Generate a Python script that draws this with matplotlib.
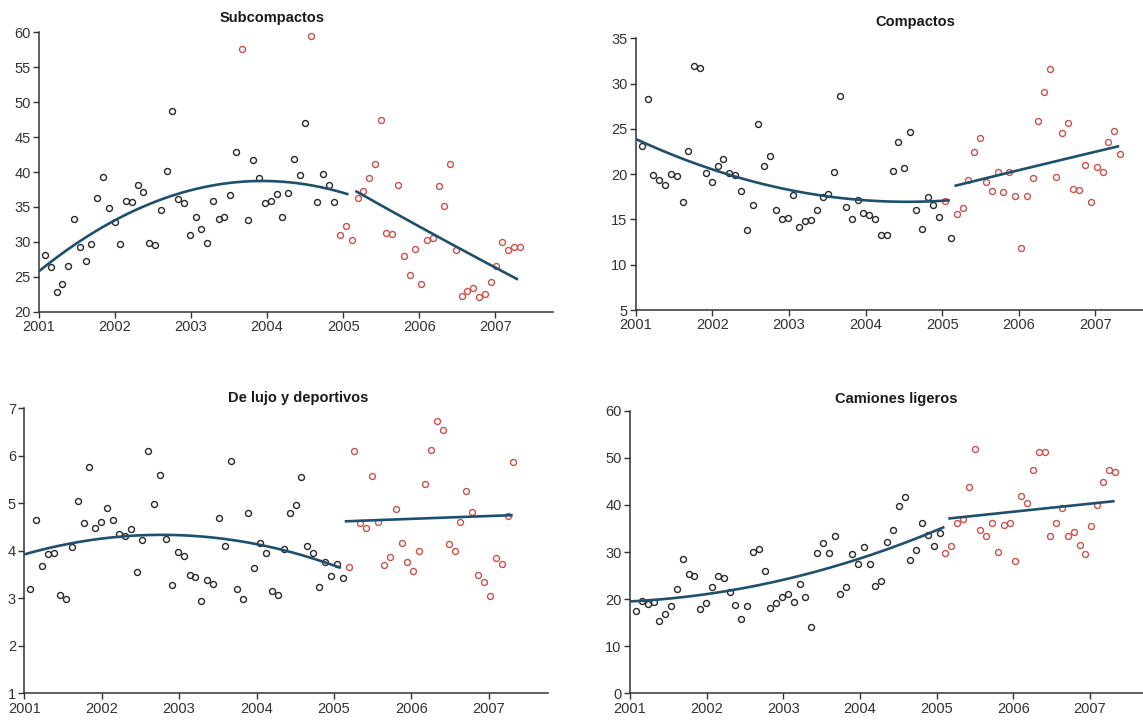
import numpy as np
import matplotlib
matplotlib.use("Agg")
import matplotlib.pyplot as plt

# ---------------- data ----------------
n_points = 83
t_start = 2001.08
t_step = 0.0761          # spacing between observations (years)

years = [2001, 2002, 2003, 2004, 2005, 2006, 2007]

titles = ["Subcompactos", "Compactos", "De lujo y deportivos", "Camiones ligeros"]

subcompactos = [28.1, 26.4, 22.8, 24.0, 26.6, 33.3, 29.2, 27.3, 29.7, 36.3,
                39.3, 34.8, 32.9, 29.7, 35.8, 35.7, 38.1, 37.2, 29.8, 29.5,
                34.5, 40.1, 48.7, 36.1, 35.5, 31.0, 33.5, 31.8, 29.8, 35.9,
                33.3, 33.6, 36.7, 42.9, 57.6, 33.1, 41.7, 39.1, 35.5, 35.8,
                36.8, 33.5, 37.0, 41.8, 39.6, 47.0, 59.5, 35.7, 39.7, 38.2,
                35.7, 31.0, 32.3, 30.2, 36.3, 37.3, 39.1, 41.1, 47.4, 31.3,
                31.1, 38.2, 28.0, 25.2, 29.0, 24.0, 30.3, 30.5, 38.0, 35.1,
                41.1, 28.9, 22.2, 22.9, 23.4, 22.1, 22.6, 24.3, 26.5, 30.0,
                28.8, 29.3, 29.3]

compactos = [23.15, 28.3, 19.9, 19.4, 18.8, 20.0, 19.8, 16.9, 22.6, 31.9,
             31.7, 20.1, 19.1, 20.9, 21.7, 20.1, 19.9, 18.1, 13.8, 16.6,
             25.5, 20.9, 22.0, 16.0, 15.0, 15.2, 17.7, 14.2, 14.8, 14.9,
             16.0, 17.5, 17.8, 20.2, 28.6, 16.4, 15.05, 17.1, 15.75, 15.45,
             15.0, 13.25, 13.3, 20.35, 23.6, 20.7, 24.7, 16.0, 13.95, 17.45,
             16.6, 15.3, 17.0, 13.0, 15.55, 16.25, 19.4, 22.4, 23.95, 19.1,
             18.15, 20.2, 18.0, 20.25, 17.6, 11.8, 17.6, 19.6, 25.9, 29.1,
             31.6, 19.7, 24.5, 25.6, 18.4, 18.2, 21.0, 16.9, 20.8, 20.2,
             23.6, 24.8, 22.2]

lujo = [3.20, 4.64, 3.69, 3.94, 3.95, 3.08, 2.99, 4.07, 5.05, 4.59,
        5.77, 4.47, 4.61, 4.91, 4.64, 4.36, 4.32, 4.46, 3.56, 4.22,
        6.10, 4.98, 5.60, 4.24, 3.29, 3.98, 3.90, 3.49, 3.44, 2.95,
        3.39, 3.31, 4.70, 4.10, 5.90, 3.20, 2.99, 4.80, 3.64, 4.16,
        3.95, 3.15, 3.06, 4.03, 4.80, 4.96, 5.55, 4.10, 3.96, 3.23,
        3.77, 3.46, 3.72, 3.42, 3.66, 6.10, 4.58, 4.48, 5.57, 4.61,
        3.71, 3.88, 4.87, 4.16, 3.77, 3.58, 4.00, 5.41, 6.12, 6.73,
        6.55, 4.15, 3.99, 4.61, 5.25, 4.81, 3.50, 3.34, 3.04, 3.84,
        3.72, 4.74, 5.87]

camiones = [17.5, 19.6, 19.0, 19.3, 15.4, 16.8, 18.6, 22.2, 28.5, 25.4,
            25.0, 18.0, 19.1, 22.5, 25.0, 24.5, 21.6, 18.7, 15.8, 18.6,
            29.9, 30.6, 25.9, 18.1, 19.2, 20.5, 21.0, 19.4, 23.3, 20.4,
            14.1, 29.7, 32.0, 29.7, 33.5, 21.0, 22.5, 29.5, 27.4, 31.1,
            27.4, 22.85, 23.9, 32.2, 34.7, 39.8, 41.6, 28.3, 30.35, 36.2,
            33.6, 31.3, 34.0, 29.85, 31.3, 36.15, 37.1, 43.8, 51.9, 34.7,
            33.5, 36.1, 30.1, 35.7, 36.2, 28.0, 41.9, 40.5, 47.5, 51.3,
            51.3, 33.5, 36.1, 39.3, 33.5, 34.3, 31.4, 29.6, 35.5, 39.9,
            44.8, 47.5, 47.05]

series = [subcompactos, compactos, lujo, camiones]

# index where red (later period) points begin, plus exceptions
red_start = [51, 52, 54, 53]
red_extra = [[34, 46], [], [], []]
black_extra = [[], [53], [], []]

# trend curves (x, y) - first period and second period
trend1_x = [[2001.0, 2002.0, 2003.0, 2004.0, 2005.07],
            [2001.0, 2002.0, 2003.0, 2004.0, 2005.10],
            [2001.0, 2002.0, 2003.0, 2004.03, 2005.09],
            [2001.0, 2002.0, 2003.0, 2004.0, 2005.10]]
trend1_y = [[25.9, 32.9, 37.4, 38.9, 36.7],
            [23.9, 20.5, 18.25, 17.15, 17.1],
            [3.93, 4.25, 4.32, 4.15, 3.63],
            [19.6, 20.9, 24.0, 28.9, 35.2]]
trend2_x = [[2005.16, 2006.0, 2007.30],
            [2005.16, 2006.2, 2007.31],
            [2005.14, 2006.2, 2007.31],
            [2005.15, 2006.2, 2007.32]]
trend2_y = [[37.3, 32.2, 24.6],
            [18.7, 20.85, 23.1],
            [4.62, 4.685, 4.75],
            [37.1, 38.9, 40.8]]

ylims = [(20, 60), (5, 35), (1, 7), (0, 60)]
ysteps = [5, 5, 1, 10]
xmax = [2007.76, 2007.62, 2007.77, 2007.69]

# ---------------- layout (pixel based) ----------------
W, H = 1143, 720
# (left px, right px, top px, bottom px)
boxes = [(39, 553, 32.3, 311.7),
         (635.7, 1143, 38.3, 310),
         (24.3, 548.3, 408.3, 693.3),
         (630, 1143, 410.7, 693.3)]
title_pos = [(272, 18), (915, 22), (298, 398), (896, 399)]

black_col = "#2a2a2a"
red_col = "#c9524b"
line_col = "#1d4f6e"
axis_col = "#333333"

fig = plt.figure(figsize=(W / 100, H / 100), dpi=100)
fig.patch.set_facecolor("white")

tick_font = ["Liberation Sans", "DejaVu Sans"]
title_font = ["Liberation Sans Narrow", "Liberation Sans", "DejaVu Sans"]

t = t_start + np.arange(n_points) * t_step

for k in range(4):
    l, r, tp, b = boxes[k]
    ax = fig.add_axes([l / W, 1 - b / H, (r - l) / W, (b - tp) / H])
    vals = np.array(series[k])
    is_red = np.zeros(n_points, dtype=bool)
    is_red[red_start[k]:] = True
    for i in red_extra[k]:
        is_red[i] = True
    for i in black_extra[k]:
        is_red[i] = False

    ax.plot(t[~is_red], vals[~is_red], linestyle="none", marker="o",
            markersize=4.3, markerfacecolor="none", markeredgecolor=black_col,
            markeredgewidth=1.0, zorder=2, clip_on=False)
    ax.plot(t[is_red], vals[is_red], linestyle="none", marker="o",
            markersize=4.3, markerfacecolor="none", markeredgecolor=red_col,
            markeredgewidth=1.0, zorder=2, clip_on=False)

    # trend curves
    c1 = np.polyfit(trend1_x[k], trend1_y[k], 2)
    xx1 = np.linspace(trend1_x[k][0], trend1_x[k][-1], 200)
    ax.plot(xx1, np.polyval(c1, xx1), color=line_col, lw=1.9, zorder=3,
            solid_capstyle="butt")
    c2 = np.polyfit(trend2_x[k], trend2_y[k], 2)
    xx2 = np.linspace(trend2_x[k][0], trend2_x[k][-1], 200)
    ax.plot(xx2, np.polyval(c2, xx2), color=line_col, lw=1.9, zorder=3,
            solid_capstyle="butt")

    ax.set_xlim(2001, xmax[k])
    ax.set_ylim(*ylims[k])
    ax.set_xticks(years)
    ax.set_xticklabels([str(y) for y in years])
    ax.set_yticks(np.arange(ylims[k][0], ylims[k][1] + 0.001, ysteps[k]))
    for s in ["top", "right"]:
        ax.spines[s].set_visible(False)
    for s in ["left", "bottom"]:
        ax.spines[s].set_color(axis_col)
        ax.spines[s].set_linewidth(1.1)
    ax.tick_params(direction="out", length=4.5, width=1.0, color=axis_col,
                   labelcolor="#333333", labelsize=10.5, pad=1.5)
    for lab in ax.get_xticklabels() + ax.get_yticklabels():
        lab.set_family(tick_font)
    ax.patch.set_alpha(0)

    tx, ty = title_pos[k]
    fig.text(tx / W, 1 - ty / H, titles[k], ha="center", va="center",
             fontsize=10.5, fontweight="bold", family=title_font, color="#1a1a1a")

fig.savefig("out.png", dpi=100, facecolor="white")
